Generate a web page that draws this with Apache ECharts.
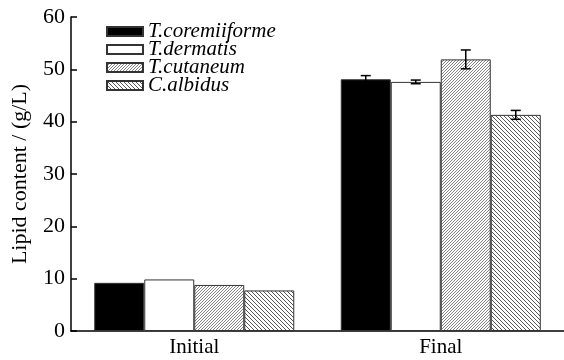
<!DOCTYPE html>
<html>
<head>
<meta charset="utf-8">
<script src="https://cdn.jsdelivr.net/npm/echarts@6/dist/echarts.min.js"></script>
<style>html,body{margin:0;padding:0;background:#fff;overflow:hidden}#c{width:564px;height:360px}</style>
</head>
<body>
<div id="c"></div>
<script>
var categories = ['Initial', 'Final'];
var seriesNames = ['T.coremiiforme', 'T.dermatis', 'T.cutaneum', 'C.albidus'];
var coremiiforme = [9.2, 48.1];
var dermatis = [9.85, 47.6];
var cutaneum = [8.8, 51.9];
var albidus = [7.75, 41.3];
var errCoremiiforme = [0, 0.7];
var errDermatis = [0, 0.35];
var errCutaneum = [0, 1.8];
var errAlbidus = [0, 0.85];
var yTicks = [0, 10, 20, 30, 40, 50, 60];

function hatch(size, dir, color, lw) {
  var c = document.createElement('canvas');
  c.width = size; c.height = size;
  var ctx = c.getContext('2d');
  ctx.fillStyle = '#fff';
  ctx.fillRect(0, 0, size, size);
  ctx.strokeStyle = color;
  ctx.lineWidth = lw;
  ctx.beginPath();
  if (dir === '/') {
    ctx.moveTo(0, size); ctx.lineTo(size, 0);
    ctx.moveTo(-1, 1); ctx.lineTo(1, -1);
    ctx.moveTo(size - 1, size + 1); ctx.lineTo(size + 1, size - 1);
  } else {
    ctx.moveTo(0, 0); ctx.lineTo(size, size);
    ctx.moveTo(-1, size - 1); ctx.lineTo(1, size + 1);
    ctx.moveTo(size - 1, -1); ctx.lineTo(size + 1, 1);
  }
  ctx.stroke();
  return c;
}

var values = [coremiiforme, dermatis, cutaneum, albidus];
var errors = [errCoremiiforme, errDermatis, errCutaneum, errAlbidus];
var fills = [
  '#000',
  '#fff',
  {image: hatch(3, '/', '#777', 0.9), repeat: 'repeat'},
  {image: hatch(4, '\\', '#444', 0.9), repeat: 'repeat'}
];
var BAR_W = 50;
var FONT = '"Liberation Serif", "Times New Roman", serif';

var series = [];
values.forEach(function (v, i) {
  series.push({
    name: seriesNames[i],
    type: 'bar',
    data: v,
    barWidth: BAR_W,
    barGap: '0%',
    itemStyle: {color: fills[i], borderColor: '#333', borderWidth: 1},
    emphasis: {disabled: true}
  });
});
values.forEach(function (v, i) {
  var d = [];
  v.forEach(function (val, k) { if (errors[i][k] > 0) d.push([k, val, errors[i][k]]); });
  series.push({
    type: 'custom',
    data: d,
    silent: true,
    z: 5,
    renderItem: function (params, api) {
      var x = api.value(0), y = api.value(1), e = api.value(2);
      var hi = api.coord([x, y + e]);
      var lo = api.coord([x, y - e]);
      var off = (i - 1.5) * BAR_W;
      var cx = hi[0] + off;
      var cap = 5;
      var st = {stroke: '#000', lineWidth: 1.5};
      return {type: 'group', children: [
        {type: 'line', shape: {x1: cx, y1: hi[1], x2: cx, y2: lo[1]}, style: st},
        {type: 'line', shape: {x1: cx - cap, y1: hi[1], x2: cx + cap, y2: hi[1]}, style: st},
        {type: 'line', shape: {x1: cx - cap, y1: lo[1], x2: cx + cap, y2: lo[1]}, style: st}
      ]};
    }
  });
});

var chart = echarts.init(document.getElementById('c'), null, {renderer: 'canvas'});
chart.setOption({
  animation: false,
  backgroundColor: '#fff',
  textStyle: {fontFamily: FONT},
  grid: {left: 71, right: -2, top: 17, bottom: 29, containLabel: false},
  legend: {
    data: seriesNames,
    orient: 'vertical',
    left: 101,
    top: 16,
    icon: 'rect',
    itemWidth: 36,
    itemHeight: 9,
    itemGap: -3,
    textStyle: {fontFamily: FONT, fontStyle: 'italic', fontSize: 21, color: '#000'},
    selectedMode: false
  },
  xAxis: {
    type: 'category',
    data: categories,
    axisLine: {lineStyle: {color: '#000', width: 1.5}},
    axisTick: {show: false},
    axisLabel: {fontFamily: FONT, fontSize: 21, color: '#000', margin: 6}
  },
  yAxis: {
    type: 'value',
    min: yTicks[0],
    max: yTicks[yTicks.length - 1],
    interval: 10,
    name: 'Lipid content / (g/L)',
    nameLocation: 'middle',
    nameGap: 40,
    nameTextStyle: {fontFamily: FONT, fontSize: 22, color: '#000'},
    axisLine: {show: true, lineStyle: {color: '#000', width: 1.5}},
    axisTick: {show: true, inside: true, length: 6, lineStyle: {color: '#000', width: 1.5}},
    splitLine: {show: false},
    axisLabel: {fontFamily: FONT, fontSize: 22, color: '#000', margin: 6}
  },
  series: series
});
</script>
</body>
</html>
